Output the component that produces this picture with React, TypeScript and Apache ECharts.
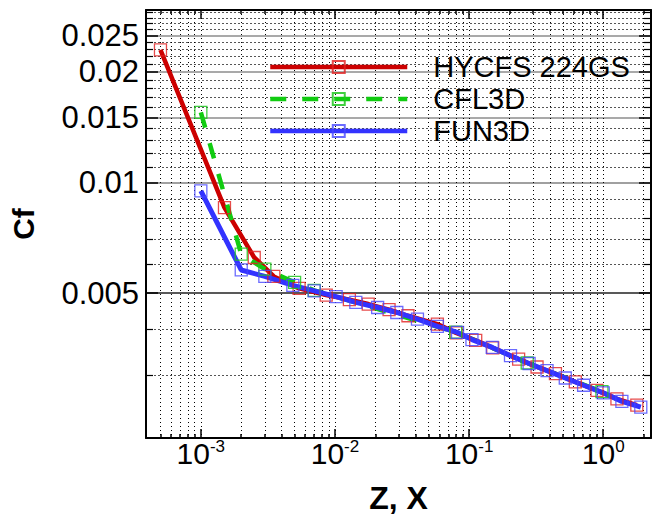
import React, { useEffect, useRef } from 'react';
import * as echarts from 'echarts';

const FONT = "'Liberation Sans', Arial, Helvetica, sans-serif";

// Axis extents
const X_MIN = 0.00039;
const X_MAX = 2.27;
const Y_MIN = 0.00202;
const Y_MAX = 0.0294;

// Tick values
const xDecades = [0.001, 0.01, 0.1, 1];
const xMinor = [
  0.0005, 0.0006, 0.0007, 0.0008, 0.0009,
  0.002, 0.003, 0.004, 0.005, 0.006, 0.007, 0.008, 0.009,
  0.02, 0.03, 0.04, 0.05, 0.06, 0.07, 0.08, 0.09,
  0.2, 0.3, 0.4, 0.5, 0.6, 0.7, 0.8, 0.9,
  2,
];
const yMajor = [0.005, 0.01, 0.015, 0.02, 0.025];
const yMinor = [
  0.002, 0.003, 0.004, 0.006, 0.007, 0.008, 0.009,
  0.011, 0.012, 0.013, 0.014, 0.016, 0.017, 0.018, 0.019,
  0.021, 0.022, 0.023, 0.024, 0.026, 0.027, 0.028, 0.029,
];

// Series: [x, Cf]
const hycfs: number[][] = [
  [0.0005, 0.0229], [0.0015, 0.00854], [0.0025, 0.00625], [0.0035, 0.00555],
  [0.0054, 0.00515], [0.0086, 0.00494], [0.0128, 0.0048], [0.0177, 0.00467],
  [0.0253, 0.00451], [0.035, 0.00434], [0.058, 0.00412], [0.08, 0.0039],
  [0.112, 0.00372], [0.15, 0.00355], [0.234, 0.00331], [0.321, 0.00315],
  [0.44, 0.00302], [0.619, 0.00287], [0.898, 0.00272], [1.265, 0.00258],
  [1.78, 0.00248],
];
const cfl3d: number[][] = [
  [0.001, 0.0155], [0.002, 0.00638], [0.003, 0.00581], [0.005, 0.00535],
  [0.007, 0.00509], [0.0794, 0.00392], [0.271, 0.00323], [0.978, 0.0027],
];
const fun3d: number[][] = [
  [0.001, 0.00948], [0.002, 0.00578], [0.003, 0.00555], [0.00485, 0.00525],
  [0.007, 0.00507], [0.0102, 0.00489], [0.0143, 0.00472], [0.0208, 0.00457],
  [0.0289, 0.00443], [0.0412, 0.00425], [0.058, 0.00406], [0.082, 0.00391],
  [0.105, 0.00374], [0.1487, 0.00356], [0.2035, 0.00338], [0.28, 0.00322],
  [0.381, 0.00308], [0.521, 0.00294], [0.714, 0.00281], [1.0, 0.00268],
  [1.377, 0.00254], [1.905, 0.00245],
];

const seriesNames = ['HYCFS 224GS', 'CFL3D', 'FUN3D'];

function App() {
  const ref = useRef<HTMLDivElement>(null);
  useEffect(() => {
    if (!ref.current) return;
    const chart = echarts.init(ref.current, undefined, { renderer: 'svg' });
    const baseX = { type: 'log', logBase: 10, min: X_MIN, max: X_MAX, gridIndex: 0 } as any;
    const baseY = { type: 'log', logBase: 10, min: Y_MIN, max: Y_MAX, gridIndex: 0 } as any;
    const axisLineStyle = { show: true, onZero: false, lineStyle: { color: '#000', width: 2 } };
    const noLine = { show: false, onZero: false };
    const dotV = { show: true, lineStyle: { color: '#000', width: 1, type: [1, 3] } };
    const dotH = { show: true, lineStyle: { color: '#555', width: 1, type: [2, 2] } };

    const mk = (name: string, data: number[][], color: string, mark: string, width: number, type: any) => ({
      name,
      type: 'line',
      data,
      xAxisIndex: 0,
      yAxisIndex: 0,
      symbol: 'rect',
      symbolSize: 12,
      showSymbol: true,
      lineStyle: { color, width, type },
      itemStyle: { color: 'rgba(255,255,255,0)', borderColor: mark, borderWidth: 1.3 },
      emphasis: { disabled: true },
      silent: true,
    });

    chart.setOption({
      animation: false,
      textStyle: { fontFamily: FONT },
      grid: { left: 144, right: 6, top: 10, bottom: 80, containLabel: false },
      legend: {
        orient: 'vertical',
        left: 268,
        top: 51,
        padding: 0,
        itemGap: 0,
        itemWidth: 137,
        itemHeight: 15,
        selectedMode: false,
        data: seriesNames,
        lineStyle: { width: 4.5 },
        textStyle: { fontSize: 29, fontFamily: FONT, color: '#000', lineHeight: 32, padding: [0, 0, 0, 21] },
      },
      xAxis: [
        {
          ...baseX,
          position: 'bottom',
          axisLine: axisLineStyle,
          axisTick: { show: true, inside: true, length: 9, customValues: xDecades, lineStyle: { color: '#000', width: 1.5 } },
          axisLabel: {
            show: true,
            customValues: xDecades,
            margin: 0,
            formatter: (v: number) => `{b|10}{s|${Math.round(Math.log10(v))}}`,
            rich: {
              b: { fontSize: 30, fontFamily: FONT, color: '#000', lineHeight: 30 },
              s: { fontSize: 17, fontFamily: FONT, color: '#000', lineHeight: 17, verticalAlign: 'top' },
            },
          },
          splitLine: dotV,
          name: 'Z, X',
          nameLocation: 'middle',
          nameGap: 44,
          nameTextStyle: { fontSize: 32, fontWeight: 'bold', fontFamily: FONT, color: '#000' },
        },
        {
          ...baseX,
          position: 'bottom',
          axisLine: noLine,
          axisTick: { show: true, inside: true, length: 4, customValues: xMinor, lineStyle: { color: '#000', width: 1.5 } },
          axisLabel: { show: false },
          splitLine: dotV,
        },
        {
          ...baseX,
          position: 'top',
          axisLine: axisLineStyle,
          axisTick: { show: true, inside: true, length: 9, customValues: xDecades, lineStyle: { color: '#000', width: 1.5 } },
          axisLabel: { show: false },
          splitLine: { show: false },
        },
        {
          ...baseX,
          position: 'top',
          axisLine: noLine,
          axisTick: { show: true, inside: true, length: 4, customValues: xMinor, lineStyle: { color: '#000', width: 1.5 } },
          axisLabel: { show: false },
          splitLine: { show: false },
        },
      ],
      yAxis: [
        {
          ...baseY,
          position: 'left',
          axisLine: axisLineStyle,
          axisTick: { show: true, inside: true, length: 12, customValues: yMajor, lineStyle: { color: '#000', width: 1.5 } },
          axisLabel: {
            show: true,
            customValues: yMajor,
            margin: 7,
            fontSize: 31,
            fontFamily: FONT,
            color: '#000',
            formatter: (v: number) => String(Math.round(v * 1000) / 1000),
          },
          splitLine: { show: true, lineStyle: { color: ['#222', '#808080', '#8c8c8c', '#8c8c8c', '#8c8c8c'], width: 1.5 } },
          name: 'Cf',
          nameLocation: 'middle',
          nameGap: 108,
          nameRotate: 90,
          nameTextStyle: { fontSize: 30, fontWeight: 'bold', fontFamily: FONT, color: '#000' },
        },
        {
          ...baseY,
          position: 'left',
          axisLine: noLine,
          axisTick: { show: true, inside: true, length: 7, customValues: yMinor, lineStyle: { color: '#000', width: 1.2 } },
          axisLabel: { show: false },
          splitLine: dotH,
        },
        {
          ...baseY,
          position: 'right',
          axisLine: axisLineStyle,
          axisTick: { show: true, inside: true, length: 12, customValues: yMajor, lineStyle: { color: '#000', width: 1.5 } },
          axisLabel: { show: false },
          splitLine: { show: false },
        },
        {
          ...baseY,
          position: 'right',
          axisLine: noLine,
          axisTick: { show: true, inside: true, length: 7, customValues: yMinor, lineStyle: { color: '#000', width: 1.2 } },
          axisLabel: { show: false },
          splitLine: { show: false },
        },
      ],
      series: [
        mk(seriesNames[0], hycfs, '#cc0000', 'rgba(225,30,30,0.8)', 4.5, 'solid'),
        mk(seriesNames[1], cfl3d, '#11cc11', 'rgba(30,200,30,0.85)', 4.5, [16, 16]),
        mk(seriesNames[2], fun3d, '#3333ff', 'rgba(70,70,255,0.8)', 5, 'solid'),
      ],
    });
    return () => chart.dispose();
  }, []);
  return <div ref={ref} style={{ position: 'fixed', left: 0, top: 0, width: 657, height: 519, background: '#fff' }} />;
}

export default App;
